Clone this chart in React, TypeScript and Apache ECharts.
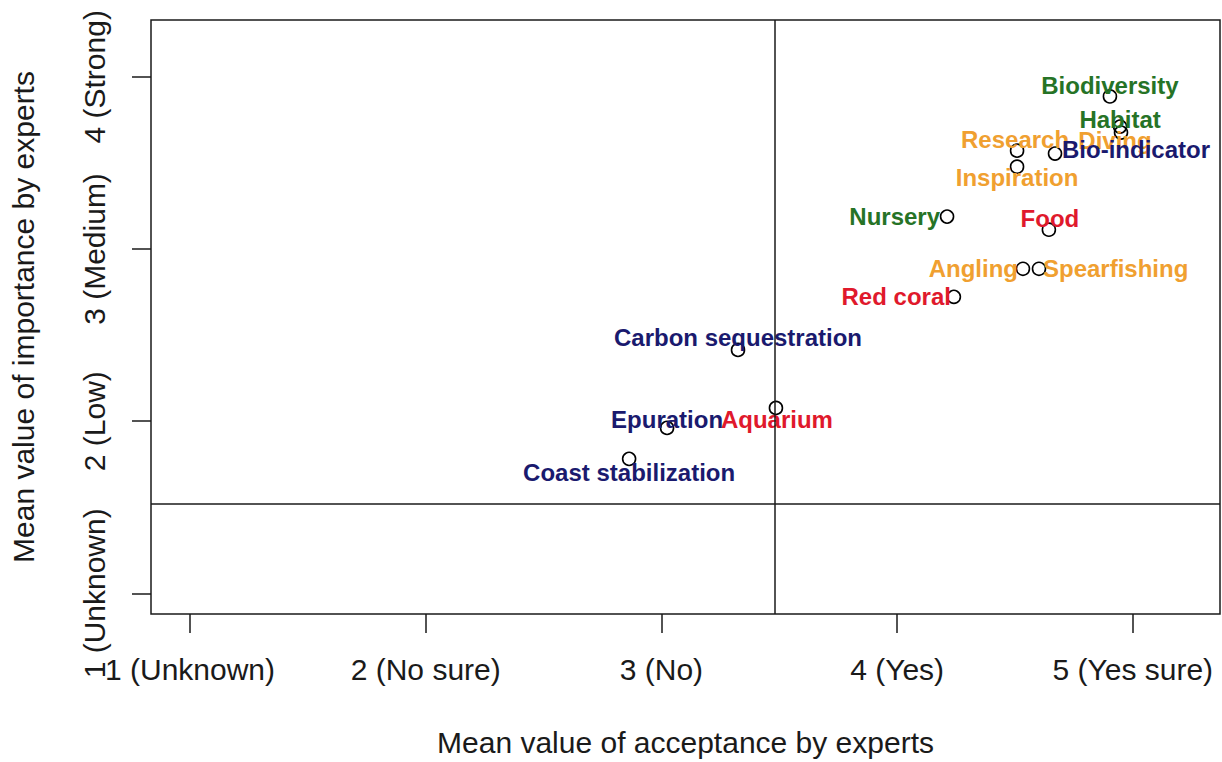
import React, { useEffect, useRef } from "react";
import * as echarts from "echarts";

// ---- data ----
const names = [
  "Coast stabilization",
  "Epuration",
  "Aquarium",
  "Carbon sequestration",
  "Red coral",
  "Angling",
  "Spearfishing",
  "Food",
  "Nursery",
  "Inspiration",
  "Research",
  "Diving",
  "Bio-indicator",
  "Habitat",
  "Biodiversity",
];
const acceptance = [2.863, 3.024, 3.486, 3.325, 4.241, 4.534, 4.602, 4.644, 4.212, 4.509, 4.509, 4.95, 4.67, 4.946, 4.903];
const importance = [1.781, 1.961, 2.077, 2.414, 2.722, 2.885, 2.885, 3.112, 3.188, 3.478, 3.571, 3.676, 3.554, 3.711, 3.886];
const groups = ["reg", "reg", "prov", "reg", "prov", "cult", "cult", "prov", "supp", "cult", "cult", "cult", "reg", "supp", "supp"];

const xTickValues = [1, 2, 3, 4, 5];
const xTickLabels = ["1 (Unknown)", "2 (No sure)", "3 (No)", "4 (Yes)", "5 (Yes sure)"];
const yTickValues = [1, 2, 3, 4];
const yTickLabels = ["1 (Unknown)", "2 (Low)", "3 (Medium)", "4 (Strong)"];
const acceptanceLine = 3.475;
const importanceLine = 1.516;

// ---- styles (not data) ----
const groupColor: Record<string, string> = {
  supp: "#267326",
  cult: "#f0a030",
  reg: "#1a1a6e",
  prov: "#e0192c",
};
const labelPlace: Record<string, { align: string; offset: number[] }> = {
  "Coast stabilization": { align: "center", offset: [0, 14] },
  Epuration: { align: "center", offset: [0, -8] },
  Aquarium: { align: "center", offset: [1, 12] },
  "Carbon sequestration": { align: "center", offset: [0, -12] },
  "Red coral": { align: "right", offset: [-3, 0] },
  Angling: { align: "right", offset: [-5, 0] },
  Spearfishing: { align: "left", offset: [4, 0] },
  Food: { align: "center", offset: [1, -11] },
  Nursery: { align: "right", offset: [-7, 0] },
  Inspiration: { align: "center", offset: [0, 11] },
  Research: { align: "center", offset: [-2, -11] },
  Diving: { align: "center", offset: [-6, 8] },
  "Bio-indicator": { align: "left", offset: [7, -4] },
  Habitat: { align: "center", offset: [0, -7] },
  Biodiversity: { align: "center", offset: [0, -11] },
};

const FONT = "'Liberation Sans', Arial, Helvetica, sans-serif";
const AXIS_COLOR = "#1a1a1a";
const AXIS_FONT = 30;

export default function App() {
  const ref = useRef<HTMLDivElement>(null);
  useEffect(() => {
    if (!ref.current) return;
    const chart = echarts.init(ref.current, undefined, { renderer: "svg" });
    const data = names.map((n, i) => ({
      name: n,
      value: [acceptance[i], importance[i]],
      label: {
        show: true,
        formatter: n,
        position: "inside",
        align: labelPlace[n].align,
        verticalAlign: "middle",
        offset: labelPlace[n].offset,
        color: groupColor[groups[i]],
        opacity: 1,
        fontFamily: FONT,
        fontWeight: "bold",
        fontSize: 24,
      },
    }));
    chart.setOption({
      animation: false,
      backgroundColor: "#ffffff",
      grid: {
        left: 151,
        right: 2,
        top: 20,
        bottom: 148,
        show: true,
        borderColor: "#1a1a1a",
        borderWidth: 1.5,
        backgroundColor: "transparent",
      },
      xAxis: {
        type: "value",
        min: 0.8345,
        max: 5.37,
        name: "Mean value of acceptance by experts",
        nameLocation: "middle",
        nameGap: 113,
        nameTextStyle: { fontFamily: FONT, fontSize: AXIS_FONT, color: AXIS_COLOR },
        axisLine: { show: false },
        splitLine: { show: false },
        axisTick: {
          show: true,
          length: 19,
          customValues: xTickValues,
          lineStyle: { color: "#1a1a1a", width: 1.5 },
        },
        axisLabel: {
          customValues: xTickValues,
          margin: 40,
          fontFamily: FONT,
          fontSize: AXIS_FONT,
          color: AXIS_COLOR,
          formatter: (v: number) => xTickLabels[xTickValues.indexOf(Math.round(v))] ?? "",
        },
      },
      yAxis: {
        type: "value",
        min: 0.88,
        max: 4.33,
        name: "Mean value of importance by experts",
        nameLocation: "middle",
        nameGap: 113,
        nameRotate: 90,
        nameTextStyle: { fontFamily: FONT, fontSize: AXIS_FONT, color: AXIS_COLOR },
        axisLine: { show: false },
        splitLine: { show: false },
        axisTick: {
          show: true,
          length: 19,
          customValues: yTickValues,
          lineStyle: { color: "#1a1a1a", width: 1.5 },
        },
        axisLabel: {
          customValues: yTickValues,
          rotate: 90,
          margin: 42,
          fontFamily: FONT,
          fontSize: AXIS_FONT,
          color: AXIS_COLOR,
          formatter: (v: number) => yTickLabels[yTickValues.indexOf(Math.round(v))] ?? "",
        },
      },
      series: [
        {
          type: "scatter",
          symbol: "circle",
          symbolSize: 13,
          itemStyle: { color: "rgba(0,0,0,0)", borderColor: "#000", borderWidth: 1.6, opacity: 1 },
          emphasis: { disabled: true },
          data,
          markLine: {
            silent: true,
            symbol: "none",
            label: { show: false },
            lineStyle: { color: "#1a1a1a", width: 1.5, type: "solid", opacity: 1 },
            data: [{ xAxis: acceptanceLine }, { yAxis: importanceLine }],
          },
        },
      ],
    });
    return () => chart.dispose();
  }, []);
  return (
    <div
      ref={ref}
      style={{ position: "fixed", left: 0, top: 0, width: 1222, height: 762, background: "#fff" }}
    />
  );
}
